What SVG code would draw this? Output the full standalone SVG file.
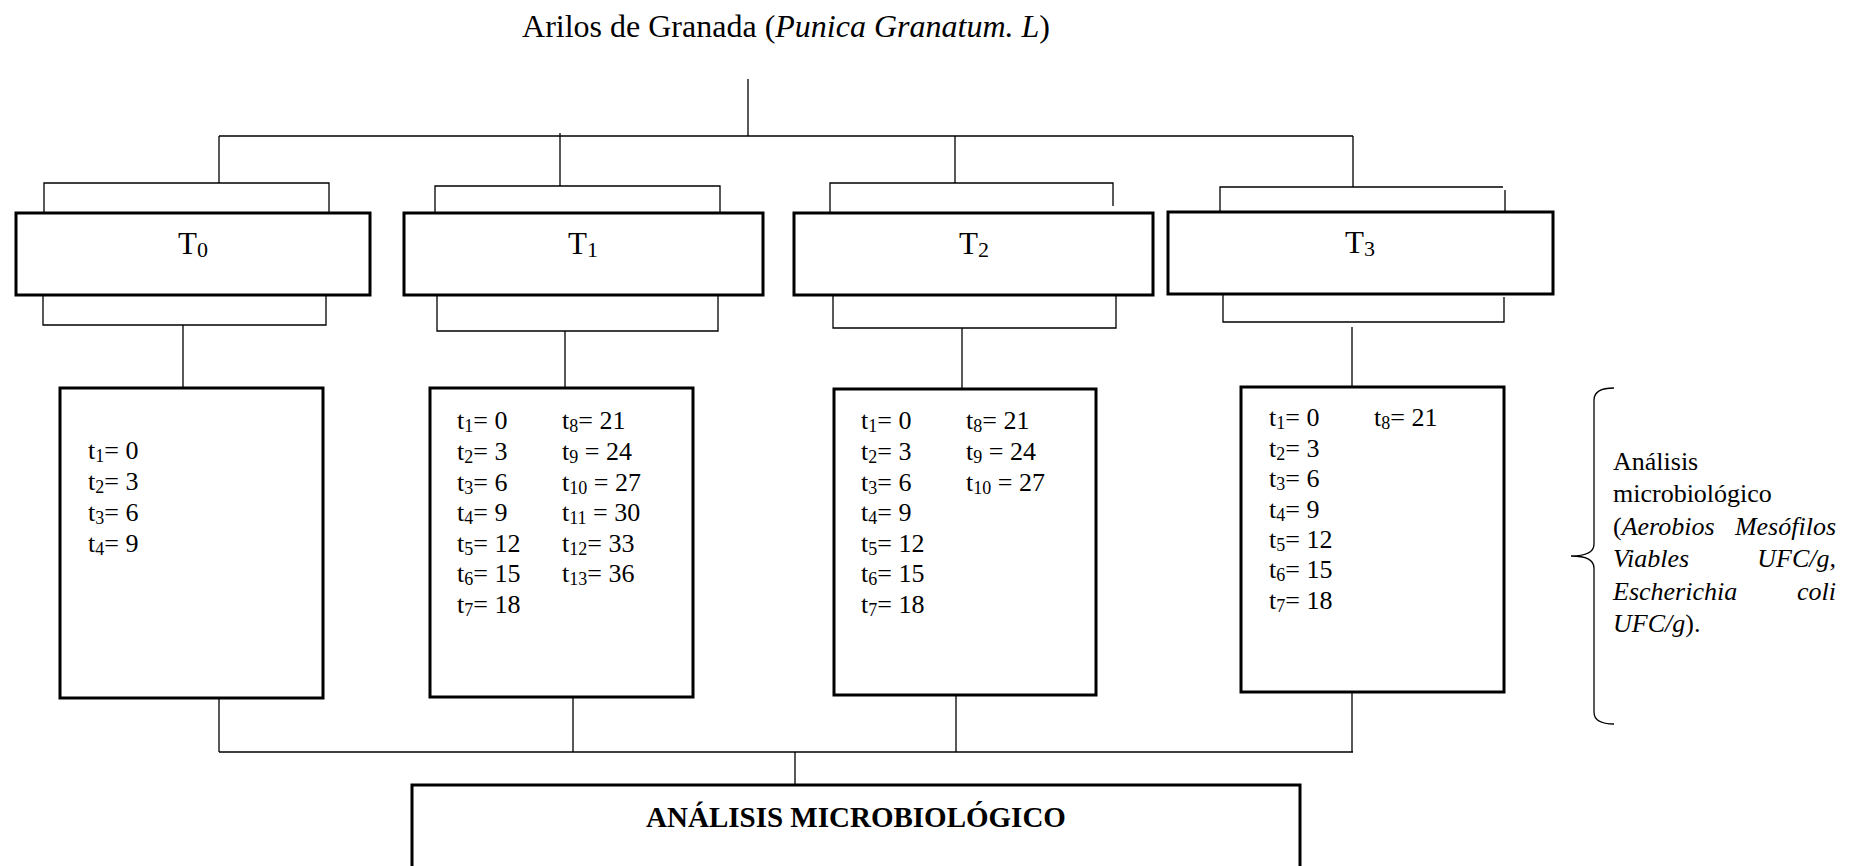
<svg xmlns="http://www.w3.org/2000/svg" width="1856" height="866" viewBox="0 0 1856 866">
<style>
text{font-family:"Liberation Serif","Times New Roman",serif;fill:#000}
.box{fill:#fff;stroke:#000;stroke-width:3}
.ln{fill:none;stroke:#000;stroke-width:1.3}
.lbl{font-size:31px;text-anchor:middle}
.t{font-size:26px}
.side{font-size:26px}
.sub{font-size:18px}
.lsub{font-size:22px}
</style>
<rect width="1856" height="866" fill="#fff"/>
<g id="title"><text x="786" y="37" font-size="32" text-anchor="middle">Arilos de Granada (<tspan font-style="italic">Punica Granatum. L</tspan>)</text></g>
<g id="connectors" class="ln">
<path d="M748,79V136M219,136H1353M219,136V183M560,133V186M955,136V183M1353,136V187"/>
<path d="M44,213V183H329V213M435,213V186H720V213M830,213V183H1113V206M1220,212V187H1503M1505,190V212"/>
<path d="M43,295V325H326V295M437,296V331H718V296M833,295V328H1116V296M1223,292V322H1504V297"/>
<path d="M183,325V388M565,331V388M962,328V389M1352,327V387"/>
<path d="M219,698V752M573,697V752M956,695V752M1352,692V752M219,752H1353M795,752V785"/>
<path d="M1614,388Q1594,388 1594,400V544Q1594,556 1571,556Q1594,556 1594,568V712Q1594,724 1614,724"/>
</g>
<g id="T0"><rect class="box" x="16" y="213" width="354" height="82"/><text class="lbl" x="193" y="254">T<tspan class="lsub" dy="3">0</tspan></text></g>
<g id="T1"><rect class="box" x="404" y="213" width="359" height="82"/><text class="lbl" x="583" y="254">T<tspan class="lsub" dy="3">1</tspan></text></g>
<g id="T2"><rect class="box" x="794" y="213" width="359" height="82"/><text class="lbl" x="974" y="254">T<tspan class="lsub" dy="3">2</tspan></text></g>
<g id="T3"><rect class="box" x="1168" y="212" width="385" height="82"/><text class="lbl" x="1360" y="253">T<tspan class="lsub" dy="3">3</tspan></text></g>
<g id="times-T0"><rect class="box" x="60" y="388" width="263" height="310"/>
<text class="t" x="88" y="459">t<tspan class="sub" dy="3">1</tspan><tspan dy="-3">= 0</tspan></text>
<text class="t" x="88" y="490">t<tspan class="sub" dy="3">2</tspan><tspan dy="-3">= 3</tspan></text>
<text class="t" x="88" y="521">t<tspan class="sub" dy="3">3</tspan><tspan dy="-3">= 6</tspan></text>
<text class="t" x="88" y="552">t<tspan class="sub" dy="3">4</tspan><tspan dy="-3">= 9</tspan></text>
</g>
<g id="times-T1"><rect class="box" x="430" y="388" width="263" height="309"/>
<text class="t" x="457" y="429">t<tspan class="sub" dy="3">1</tspan><tspan dy="-3">= 0</tspan></text>
<text class="t" x="457" y="460">t<tspan class="sub" dy="3">2</tspan><tspan dy="-3">= 3</tspan></text>
<text class="t" x="457" y="491">t<tspan class="sub" dy="3">3</tspan><tspan dy="-3">= 6</tspan></text>
<text class="t" x="457" y="521">t<tspan class="sub" dy="3">4</tspan><tspan dy="-3">= 9</tspan></text>
<text class="t" x="457" y="552">t<tspan class="sub" dy="3">5</tspan><tspan dy="-3">= 12</tspan></text>
<text class="t" x="457" y="582">t<tspan class="sub" dy="3">6</tspan><tspan dy="-3">= 15</tspan></text>
<text class="t" x="457" y="613">t<tspan class="sub" dy="3">7</tspan><tspan dy="-3">= 18</tspan></text>
<text class="t" x="562" y="429">t<tspan class="sub" dy="3">8</tspan><tspan dy="-3">= 21</tspan></text>
<text class="t" x="562" y="460">t<tspan class="sub" dy="3">9</tspan><tspan dy="-3"> = 24</tspan></text>
<text class="t" x="562" y="491">t<tspan class="sub" dy="3">10</tspan><tspan dy="-3"> = 27</tspan></text>
<text class="t" x="562" y="521">t<tspan class="sub" dy="3">11</tspan><tspan dy="-3"> = 30</tspan></text>
<text class="t" x="562" y="552">t<tspan class="sub" dy="3">12</tspan><tspan dy="-3">= 33</tspan></text>
<text class="t" x="562" y="582">t<tspan class="sub" dy="3">13</tspan><tspan dy="-3">= 36</tspan></text>
</g>
<g id="times-T2"><rect class="box" x="834" y="389" width="262" height="306"/>
<text class="t" x="861" y="429">t<tspan class="sub" dy="3">1</tspan><tspan dy="-3">= 0</tspan></text>
<text class="t" x="861" y="460">t<tspan class="sub" dy="3">2</tspan><tspan dy="-3">= 3</tspan></text>
<text class="t" x="861" y="491">t<tspan class="sub" dy="3">3</tspan><tspan dy="-3">= 6</tspan></text>
<text class="t" x="861" y="521">t<tspan class="sub" dy="3">4</tspan><tspan dy="-3">= 9</tspan></text>
<text class="t" x="861" y="552">t<tspan class="sub" dy="3">5</tspan><tspan dy="-3">= 12</tspan></text>
<text class="t" x="861" y="582">t<tspan class="sub" dy="3">6</tspan><tspan dy="-3">= 15</tspan></text>
<text class="t" x="861" y="613">t<tspan class="sub" dy="3">7</tspan><tspan dy="-3">= 18</tspan></text>
<text class="t" x="966" y="429">t<tspan class="sub" dy="3">8</tspan><tspan dy="-3">= 21</tspan></text>
<text class="t" x="966" y="460">t<tspan class="sub" dy="3">9</tspan><tspan dy="-3"> = 24</tspan></text>
<text class="t" x="966" y="491">t<tspan class="sub" dy="3">10</tspan><tspan dy="-3"> = 27</tspan></text>
</g>
<g id="times-T3"><rect class="box" x="1241" y="387" width="263" height="305"/>
<text class="t" x="1269" y="426">t<tspan class="sub" dy="3">1</tspan><tspan dy="-3">= 0</tspan></text>
<text class="t" x="1269" y="457">t<tspan class="sub" dy="3">2</tspan><tspan dy="-3">= 3</tspan></text>
<text class="t" x="1269" y="487">t<tspan class="sub" dy="3">3</tspan><tspan dy="-3">= 6</tspan></text>
<text class="t" x="1269" y="518">t<tspan class="sub" dy="3">4</tspan><tspan dy="-3">= 9</tspan></text>
<text class="t" x="1269" y="548">t<tspan class="sub" dy="3">5</tspan><tspan dy="-3">= 12</tspan></text>
<text class="t" x="1269" y="578">t<tspan class="sub" dy="3">6</tspan><tspan dy="-3">= 15</tspan></text>
<text class="t" x="1269" y="609">t<tspan class="sub" dy="3">7</tspan><tspan dy="-3">= 18</tspan></text>
<text class="t" x="1374" y="426">t<tspan class="sub" dy="3">8</tspan><tspan dy="-3">= 21</tspan></text>
</g>
<g id="analisis-note">
<text class="side" x="1613" y="470">Análisis</text>
<text class="side" x="1613" y="502">microbiológico</text>
<text class="side" x="1613" y="535">(<tspan font-style="italic">Aerobios</tspan></text>
<text class="side" x="1836" y="535" text-anchor="end" font-style="italic">Mesófilos</text>
<text class="side" x="1613" y="567" font-style="italic">Viables</text>
<text class="side" x="1836" y="567" text-anchor="end" font-style="italic">UFC/g,</text>
<text class="side" x="1613" y="600" font-style="italic">Escherichia</text>
<text class="side" x="1836" y="600" text-anchor="end" font-style="italic">coli</text>
<text class="side" x="1613" y="632"><tspan font-style="italic">UFC/g</tspan>).</text>
</g>
<g id="analisis-box"><rect class="box" x="412" y="785" width="888" height="100"/><text x="856" y="827" font-size="29" font-weight="bold" text-anchor="middle">ANÁLISIS MICROBIOLÓGICO</text></g>
</svg>
